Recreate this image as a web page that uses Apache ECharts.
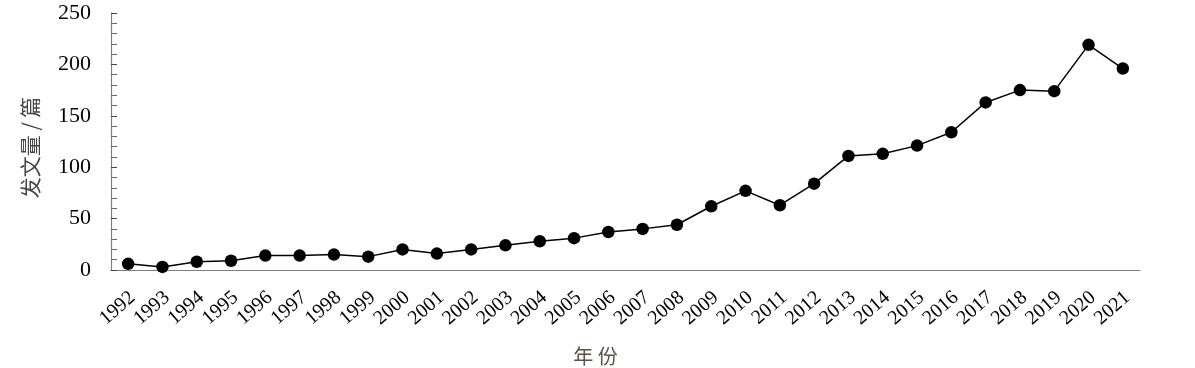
<!DOCTYPE html>
<html>
<head>
<meta charset="utf-8">
<script src="https://cdn.jsdelivr.net/npm/echarts@6/dist/echarts.min.js"></script>
<style>
html,body{margin:0;padding:0;background:#fff;}
#chart{width:1195px;height:368px;}
</style>
</head>
<body>
<div id="chart"></div>
<script>
const years = ['1992','1993','1994','1995','1996','1997','1998','1999','2000','2001','2002','2003','2004','2005','2006','2007','2008','2009','2010','2011','2012','2013','2014','2015','2016','2017','2018','2019','2020','2021'];
const counts = [6,3,8,9,14,14,15,13,20,16,20,24,28,31,37,40,44,62,77,63,84,111,113,121,134,163,175,174,219,196];
const yTicks = [0,50,100,150,200,250];
const xName = '年 份';
const yName = '发文量 / 篇';

const serif = '"Liberation Serif","Times New Roman",serif';
const cjk = '"Noto Sans CJK SC",sans-serif';

const chart = echarts.init(document.getElementById('chart'));
chart.setOption({
  animation: false,
  backgroundColor: '#fff',
  grid: {left: 111, right: 55, top: 13, bottom: 98, containLabel: false, outerBoundsMode: 'none'},
  xAxis: {
    type: 'category',
    data: years,
    boundaryGap: true,
    name: xName,
    nameLocation: 'middle',
    nameGap: 76,
    nameTextStyle: {fontFamily: cjk, fontSize: 20, color: '#5a5048', padding: [0, 60, 0, 0]},
    axisLine: {lineStyle: {color: '#808080', width: 1.2}},
    axisTick: {inside: true, length: 6, alignWithLabel: false, lineStyle: {color: '#333'}},
    axisLabel: {rotate: 41, fontFamily: serif, fontSize: 20, color: '#000', margin: 29, interval: 0, padding: [0, -6, 0, 0]}
  },
  yAxis: {
    type: 'value',
    min: yTicks[0],
    max: yTicks[yTicks.length - 1],
    interval: 50,
    name: yName,
    nameLocation: 'middle',
    nameRotate: 90,
    nameGap: 70,
    nameTextStyle: {fontFamily: cjk, fontSize: 21, color: '#444', padding: [0, 12, 0, 0]},
    axisLine: {show: true, lineStyle: {color: '#808080', width: 1.2}},
    axisTick: {show: true, inside: true, length: 6, lineStyle: {color: '#444'}},
    minorTick: {show: true, splitNumber: 5, length: 6, lineStyle: {color: '#666'}},
    splitLine: {show: false},
    axisLabel: {fontFamily: serif, fontSize: 22, color: '#000', margin: 20}
  },
  series: [{
    type: 'line',
    data: counts,
    symbol: 'circle',
    symbolSize: 12.5,
    itemStyle: {color: '#000'},
    lineStyle: {color: '#000', width: 1.5}
  }]
});
</script>
</body>
</html>
